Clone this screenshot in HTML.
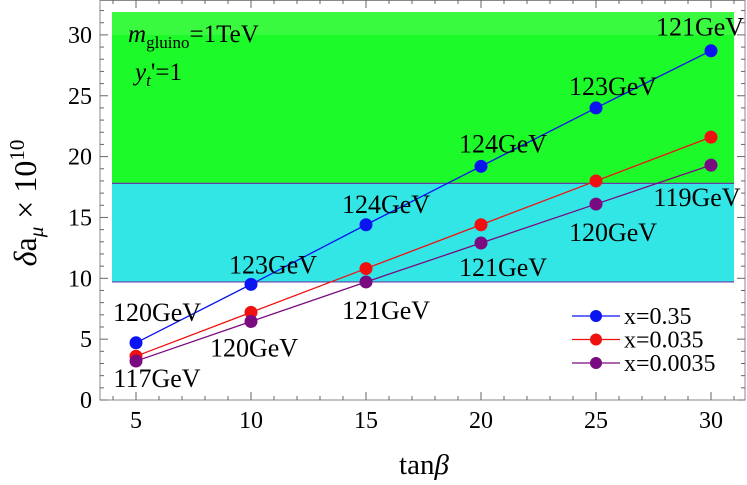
<!DOCTYPE html>
<html><head><meta charset="utf-8"><style>
body{margin:0;background:#fff}
svg{display:block;font-family:"Liberation Serif",serif}
</style></head><body>
<svg id="c" width="747" height="485">
<g id="bands"></g><g id="axes"></g><g id="series"></g><g id="labels"></g><g id="legend"></g>
</svg>
<script>
const xVals=[5,10,15,20,25,30];
const blueVals=[4.7,9.5,14.4,19.2,24.0,28.7];
const redVals=[3.6,7.2,10.8,14.4,18.0,21.6];
const purpleVals=[3.2,6.45,9.7,12.9,16.1,19.3];
const xTicks=[5,10,15,20,25,30];
const yTicks=[0,5,10,15,20,25,30];
const blueLabels=["120GeV","123GeV","124GeV","124GeV","123GeV","121GeV"];
const purpleLabels=["117GeV","120GeV","121GeV","121GeV","120GeV","119GeV"];
const seriesNames=["x=0.35","x=0.035","x=0.0035"];
const NS="http://www.w3.org/2000/svg";
const L=100,R=745,T=0,B=400;
const X=v=>136+(v-5)*23;
const Y=v=>400-v*12.17;
function mk(tag,at,parent,txt){const e=document.createElementNS(NS,tag);for(const k in at)e.setAttribute(k,at[k]);if(txt!=null)e.textContent=txt;document.getElementById(parent).appendChild(e);return e;}
const bx0=112,bx1=734;
let e=mk('rect',{x:bx0,y:12,width:bx1-bx0,height:Y(17.8)-12,fill:'#1cfa2a'},'bands');

e=mk('rect',{x:bx0,y:12,width:bx1-bx0,height:Y(30)-12,fill:'#3afa40'},'bands');

e=mk('rect',{x:bx0,y:Y(17.8),width:bx1-bx0,height:Y(9.7)-Y(17.8),fill:'#33e6e6'},'bands');

[17.8,9.7].forEach(v=>{const l=mk('line',{x1:bx0,x2:bx1,y1:Y(v),y2:Y(v),stroke:'#6a3aa8','stroke-width':1.2},'bands');
});
e=mk('rect',{x:L,y:T+0.5,width:R-L,height:B-T-0.5,fill:'none',stroke:'#888','stroke-width':1},'axes');

for(let v=4;v<=31;v++){const s=v%5==0?8:4;
 mk('line',{x1:X(v),x2:X(v),y1:B,y2:B-s,stroke:'#666'},'axes');mk('line',{x1:X(v),x2:X(v),y1:T,y2:T+s,stroke:'#666'},'axes');}
for(let v=0;v<=32;v++){const s=v%5==0?8:4;
 mk('line',{x1:L,x2:L+s,y1:Y(v),y2:Y(v),stroke:'#666'},'axes');mk('line',{x1:R,x2:R-s,y1:Y(v),y2:Y(v),stroke:'#666'},'axes');}
xTicks.forEach(v=>{const t=mk('text',{x:X(v),y:428,'font-size':24,'text-anchor':'middle'},'axes',v);
});
yTicks.forEach(v=>{const t=mk('text',{x:92,y:Y(v)+8,'font-size':24,'text-anchor':'end'},'axes',v);
});
e=mk('text',{x:424,y:474,'font-size':29,'text-anchor':'middle'},'axes');
e.innerHTML='tan<tspan font-style="italic">β</tspan>';

e=mk('text',{transform:'translate(36,203) rotate(-90)','font-size':32,'text-anchor':'middle'},'axes');
e.innerHTML='<tspan font-style="italic">δ</tspan>a<tspan font-size="21" dy="7" font-style="italic">μ</tspan><tspan dy="-7"> × 10</tspan><tspan font-size="21" dy="-12">10</tspan>';

const series=[[blueVals,'#0a14f0','blue'],[redVals,'#f01010','red'],[purpleVals,'#7a0a80','purple']];
series.forEach(([vals,col,nm])=>{
 const pl=mk('polyline',{points:vals.map((v,i)=>X(xVals[i])+','+Y(v)).join(' '),fill:'none',stroke:col,'stroke-width':1.3},'series');
 
 vals.forEach((v,i)=>{const c=mk('circle',{cx:X(xVals[i]),cy:Y(v),r:6.5,fill:col},'series');
 });
});
const bOff=[[21,-22],[22,-11],[20,-12],[22,-14],[17,-13],[-11,-15]];
const pOff=[[21,26],[3,35],[20,37],[22,33],[17,37],[-14,41]];
blueLabels.forEach((s,i)=>{const t=mk('text',{x:X(xVals[i])+bOff[i][0],y:Y(blueVals[i])+bOff[i][1],'font-size':26,'text-anchor':'middle'},'labels',s);
});
purpleLabels.forEach((s,i)=>{const t=mk('text',{x:X(xVals[i])+pOff[i][0],y:Y(purpleVals[i])+pOff[i][1],'font-size':26,'text-anchor':'middle'},'labels',s);
});
e=mk('text',{x:128,y:42,'font-size':25},'labels');
e.innerHTML='<tspan font-style="italic">m</tspan><tspan font-size="17" dy="6">gluino</tspan><tspan dy="-6">=1TeV</tspan>';

e=mk('text',{x:135,y:80,'font-size':25},'labels');
e.innerHTML='<tspan font-style="italic">y</tspan><tspan font-size="17" dy="6" font-style="italic">t</tspan><tspan dy="-6">\'=1</tspan>';

const legCols=['#0a14f0','#f01010','#7a0a80'];
seriesNames.forEach((s,i)=>{const y=316+i*23.5;
 const l=mk('line',{x1:572,x2:620,y1:y,y2:y,stroke:legCols[i],'stroke-width':1.3},'legend');
 
 const c=mk('circle',{cx:596,cy:y,r:6,fill:legCols[i]},'legend');
 
 const t=mk('text',{x:624,y:y+8,'font-size':24},'legend',s);
 });
</script>
</body></html>
